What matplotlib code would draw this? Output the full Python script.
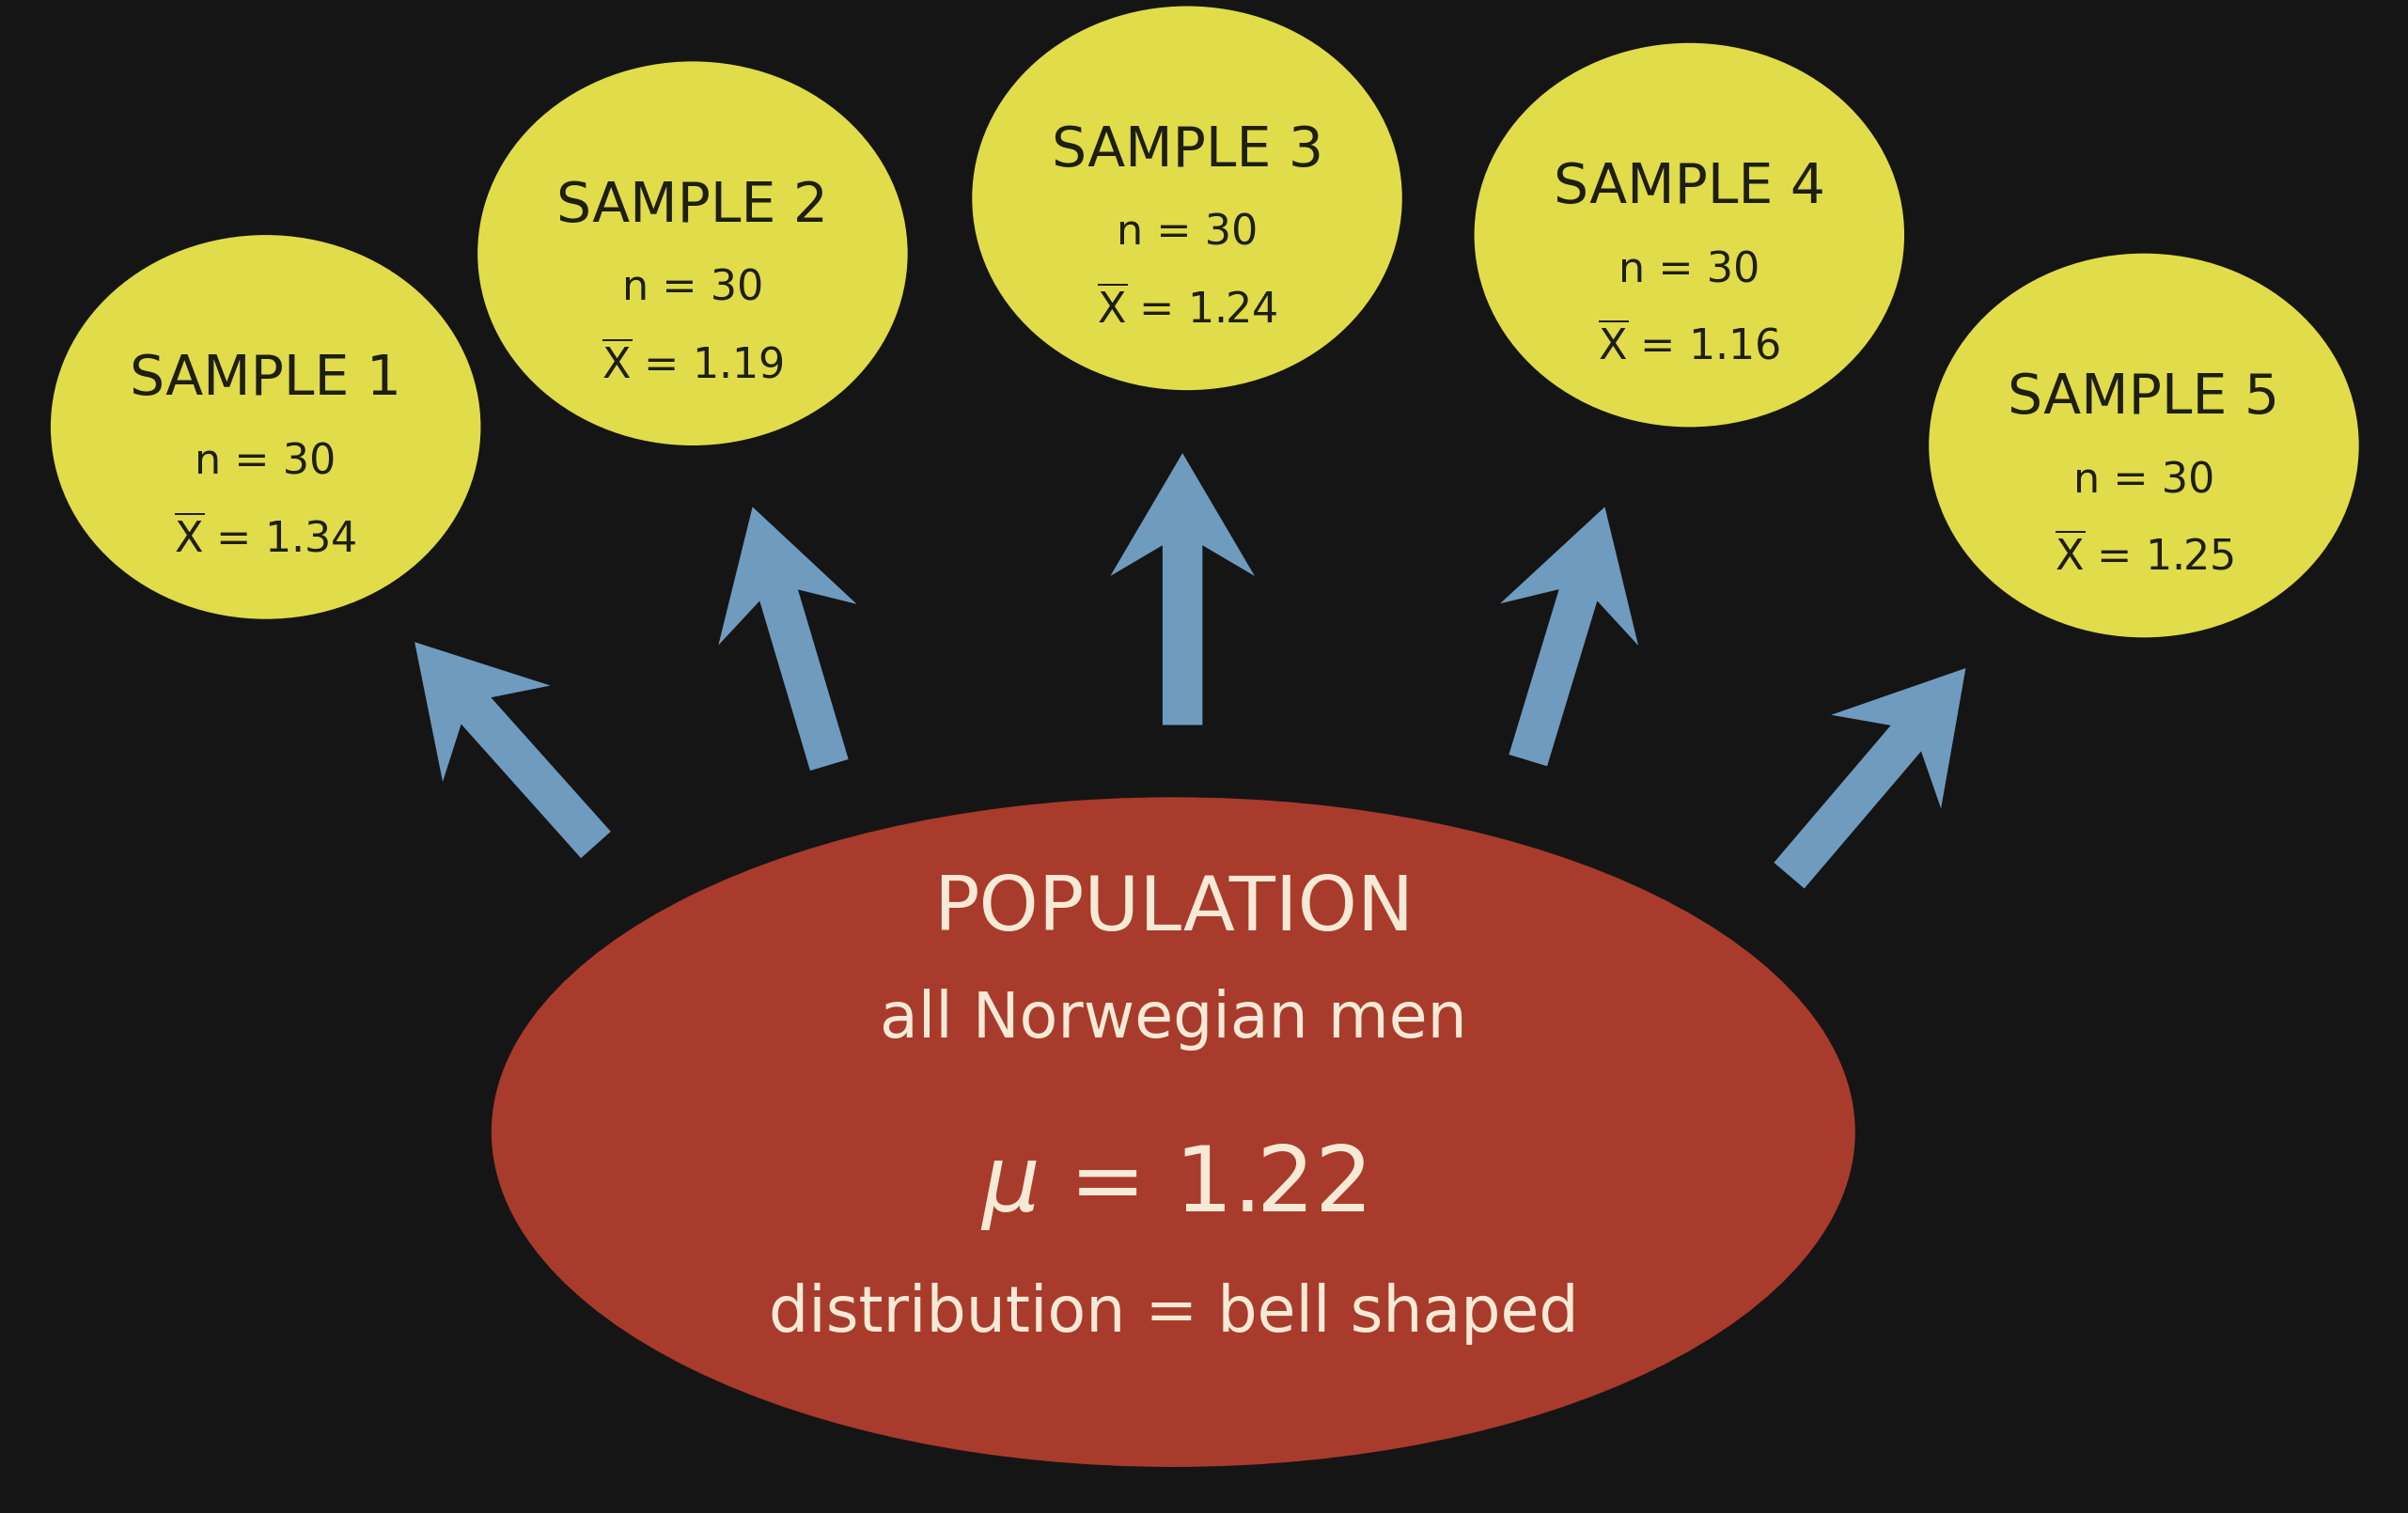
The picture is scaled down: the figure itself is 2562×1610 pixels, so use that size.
import numpy as np
import matplotlib
matplotlib.use("Agg")
import matplotlib.pyplot as plt
from matplotlib.patches import Ellipse, Polygon

# ---- content
samples = ["SAMPLE 1", "SAMPLE 2", "SAMPLE 3", "SAMPLE 4", "SAMPLE 5"]
sample_n = [30, 30, 30, 30, 30]
sample_mean = [1.34, 1.19, 1.24, 1.16, 1.25]
pop_title = "POPULATION"
pop_desc = "all Norwegian men"
pop_mu = 1.22
pop_dist = "distribution = bell shaped"

# ---- layout (canvas units, 1568 x 985, y down)
circ_xy = [(173, 278), (451, 165), (773, 129), (1100, 153), (1396, 290)]
circ_r = (140, 125)
arrows = [((388, 550), (270, 418)), ((540, 498), (490, 330)), ((770, 472), (770, 295)),
          ((995, 495), (1045, 330)), ((1165, 570), (1280, 435))]
pop_xy, pop_wh = (764, 737), (888, 436)

BG, YEL, RED, BLUE = "#151515", "#e0dc4a", "#a93b2c", "#6f9bbf"
INK, CREAM = "#1e1e14", "#f6ead6"
plt.rcParams["font.family"] = ["DejaVu Sans"]
plt.rcParams["mathtext.fontset"] = "dejavusans"

fig = plt.figure(figsize=(25.62, 16.10), dpi=100, facecolor=BG)
ax = fig.add_axes([0, 0, 1, 1])
ax.set_facecolor(BG)
ax.set_xlim(0, 1568); ax.set_ylim(985, 0)
ax.axis("off")


def arrow(p0, p1, w=26, hw=94, hl=80):
    p0, p1 = np.array(p0, float), np.array(p1, float)
    d = p1 - p0; L = np.hypot(*d); u = d / L; v = np.array([-u[1], u[0]])
    loc = [(0, -w/2), (L - hl + 20, -w/2), (L - hl, -hw/2), (L, 0),
           (L - hl, hw/2), (L - hl + 20, w/2), (0, w/2)]
    pts = [p0 + a * u + b * v for a, b in loc]
    ax.add_patch(Polygon(pts, closed=True, color=BLUE, lw=0))


for (x, y), lab, n, m in zip(circ_xy, samples, sample_n, sample_mean):
    ax.add_patch(Ellipse((x, y), 2 * circ_r[0], 2 * circ_r[1], color=YEL, lw=0))
    ax.text(x, y - 31, lab, ha="center", va="center", fontsize=42, color=INK)
    ax.text(x, y + 23, f"n = {n}", ha="center", va="center", fontsize=32, color=INK)
    ax.text(x, y + 72, r"$\overline{\mathrm{X}}$" + f" = {m:.2f}", ha="center", va="center",
            fontsize=32, color=INK)

for p0, p1 in arrows:
    arrow(p0, p1)

ax.add_patch(Ellipse(pop_xy, *pop_wh, color=RED, lw=0))
cx = pop_xy[0]
ax.text(cx, 592, pop_title, ha="center", va="center", fontsize=58, color=CREAM)
ax.text(cx, 664, pop_desc, ha="center", va="center", fontsize=48, color=CREAM)
ax.text(cx, 773, r"$\mu$" + f" = {pop_mu:.2f}", ha="center", va="center", fontsize=70, color=CREAM)
ax.text(cx, 855, pop_dist, ha="center", va="center", fontsize=48, color=CREAM)

fig.savefig("out.png", dpi=100, facecolor=BG)
